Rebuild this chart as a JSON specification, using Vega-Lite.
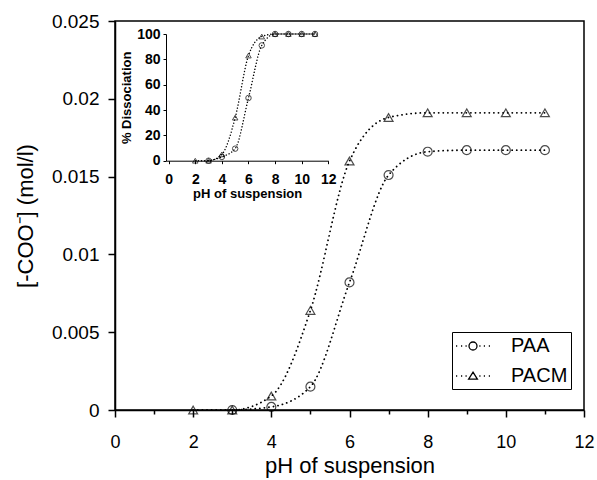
{
  "$schema": "https://vega.github.io/schema/vega-lite/v6.json",
  "width": 469,
  "height": 389,
  "autosize": {"type": "none"},
  "padding": {"left": 115, "top": 21, "right": 13, "bottom": 70},
  "background": "white",
  "config": {
    "font": "Liberation Sans",
    "view": {"stroke": "black", "strokeWidth": 1.5},
    "axis": {"grid": false, "domainColor": "black", "tickColor": "black", "labelColor": "black", "titleColor": "black", "titleFontWeight": "normal", "labelFont": "Liberation Sans", "titleFont": "Liberation Sans"}
  },
  "datasets": {
    "main": [
      {"series": "PACM", "pH": 2, "coo": 0},
      {"series": "PACM", "pH": 3, "coo": 0},
      {"series": "PACM", "pH": 4, "coo": 0.0009},
      {"series": "PACM", "pH": 5, "coo": 0.0064},
      {"series": "PACM", "pH": 6, "coo": 0.016},
      {"series": "PACM", "pH": 7, "coo": 0.0188},
      {"series": "PACM", "pH": 8, "coo": 0.0191},
      {"series": "PACM", "pH": 9, "coo": 0.0191},
      {"series": "PACM", "pH": 10, "coo": 0.0191},
      {"series": "PACM", "pH": 11, "coo": 0.0191},
      {"series": "PAA", "pH": 3, "coo": 0},
      {"series": "PAA", "pH": 4, "coo": 0.0002},
      {"series": "PAA", "pH": 5, "coo": 0.0015},
      {"series": "PAA", "pH": 6, "coo": 0.0082},
      {"series": "PAA", "pH": 7, "coo": 0.0151},
      {"series": "PAA", "pH": 8, "coo": 0.0166},
      {"series": "PAA", "pH": 9, "coo": 0.0167},
      {"series": "PAA", "pH": 10, "coo": 0.0167},
      {"series": "PAA", "pH": 11, "coo": 0.0167}
    ],
    "inset": [
      {"series": "PACM", "pH": 2, "diss": 0},
      {"series": "PACM", "pH": 3, "diss": 0},
      {"series": "PACM", "pH": 4, "diss": 5},
      {"series": "PACM", "pH": 5, "diss": 34},
      {"series": "PACM", "pH": 6, "diss": 83},
      {"series": "PACM", "pH": 7, "diss": 98},
      {"series": "PACM", "pH": 8, "diss": 100},
      {"series": "PACM", "pH": 9, "diss": 100},
      {"series": "PACM", "pH": 10, "diss": 100},
      {"series": "PACM", "pH": 11, "diss": 100},
      {"series": "PAA", "pH": 3, "diss": 0},
      {"series": "PAA", "pH": 4, "diss": 3},
      {"series": "PAA", "pH": 5, "diss": 9.5},
      {"series": "PAA", "pH": 6, "diss": 49.5},
      {"series": "PAA", "pH": 7, "diss": 91},
      {"series": "PAA", "pH": 8, "diss": 100},
      {"series": "PAA", "pH": 9, "diss": 100},
      {"series": "PAA", "pH": 10, "diss": 100},
      {"series": "PAA", "pH": 11, "diss": 100}
    ]
  },
  "layer": [
    {
      "data": {"name": "main"},
      "encoding": {
        "x": {
          "field": "pH", "type": "quantitative",
          "scale": {"domain": [0, 12], "nice": false, "zero": false},
          "axis": {
            "orient": "bottom",
            "title": "pH of suspension",
            "values": [0, 1, 2, 3, 4, 5, 6, 7, 8, 9, 10, 11, 12],
            "labelExpr": "datum.value % 2 === 0 ? datum.label : ''",
            "labelFontSize": 18,
            "titleFontSize": 22,
            "tickSize": {"condition": {"test": "datum.value % 2 === 1", "value": 4}, "value": 7},
            "tickWidth": 1.5,
            "domainWidth": 1.5,
            "labelPadding": 16,
            "titlePadding": 4,
            "labelFlush": false,
            "labelOverlap": false
          }
        },
        "y": {
          "field": "coo", "type": "quantitative",
          "scale": {"domain": [0, 0.025], "nice": false},
          "axis": {
            "orient": "left",
            "title": "[-COO⁻] (mol/l)",
            "values": [0, 0.005, 0.01, 0.015, 0.02, 0.025],
            "format": ".3~f",
            "labelFontSize": 19,
            "titleFontSize": 22,
            "tickSize": 7,
            "tickWidth": 1.5,
            "domainWidth": 1.5,
            "labelPadding": 9,
            "titlePadding": 14,
            "labelFlush": false
          }
        }
      },
      "layer": [
        {
          "mark": {"type": "line", "interpolate": "monotone", "color": "black", "strokeWidth": 1.8, "strokeDash": [0.1, 4.5], "strokeCap": "round"},
          "encoding": {"detail": {"field": "series"}}
        },
        {
          "mark": {"type": "point", "filled": false, "color": "black", "size": 80, "strokeWidth": 1.2},
          "encoding": {
            "shape": {"field": "series", "scale": {"domain": ["PAA", "PACM"], "range": ["circle", "triangle-up"]}, "legend": null}
          }
        },
        {
          "mark": {"type": "point", "filled": false, "color": "black", "opacity": 0},
          "encoding": {
            "shape": {
              "field": "series",
              "scale": {
                "domain": ["PAA", "PACM"],
                "range": [
                  "M-1.7,0L-1.58,0M-1.2,0L-1.08,0M-0.75,0L-0.63,0M0.4,0A0.4,0.4 0 1,1 -0.4,0A0.4,0.4 0 1,1 0.4,0M0.63,0L0.75,0M1.08,0L1.2,0M1.58,0L1.7,0",
                  "M-1.7,0L-1.58,0M-1.2,0L-1.08,0M-0.75,0L-0.63,0M0,-0.38L0.44,0.32L-0.44,0.32ZM0.63,0L0.75,0M1.08,0L1.2,0M1.58,0L1.7,0"
                ]
              },
              "legend": {
                "title": null,
                "orient": "none",
                "legendX": 337,
                "legendY": 311,
                "strokeColor": "black",
                "fillColor": "white",
                "padding": 3,
                "symbolSize": 400,
                "symbolOffset": 7,
                "symbolStrokeColor": "black",
                "symbolFillColor": "transparent",
                "symbolStrokeWidth": 1.3,
                "symbolOpacity": 1,
                "labelOffset": 27,
                "labelFontSize": 20,
                "labelColor": "black",
                "labelFont": "Liberation Sans",
                "labelExpr": "datum.label + '\u00a0\u00a0\u00a0'",
                "rowPadding": 9
              }
            }
          }
        }
      ],
      "resolve": {"scale": {"shape": "independent"}, "legend": {"shape": "independent"}}
    },
    {
      "encoding": {
        "x": {
          "field": "pH", "type": "quantitative",
          "scale": {"domain": [-0.2, 12], "nice": false, "zero": false, "range": [51, 213.3]},
          "axis": {
            "orient": "bottom",
            "offset": -249.3,
            "title": "pH of suspension",
            "values": [0, 2, 4, 6, 8, 10, 12],
            "labelFontSize": 14,
            "labelFontWeight": "bold",
            "titleFontSize": 13,
            "titleFontWeight": "bold",
            "tickSize": 3,
            "domainWidth": 1,
            "labelPadding": 9,
            "titlePadding": 1,
            "labelFlush": false,
            "labelOverlap": false
          }
        },
        "y": {
          "field": "diss", "type": "quantitative",
          "scale": {"domain": [0, 100], "nice": false, "range": [139.7, 13]},
          "axis": {
            "orient": "left",
            "offset": -51,
            "title": "% Dissociation",
            "values": [0, 20, 40, 60, 80, 100],
            "labelFontSize": 14,
            "labelFontWeight": "bold",
            "titleFontSize": 13,
            "titleFontWeight": "bold",
            "tickSize": 3,
            "domainWidth": 1,
            "labelPadding": 3,
            "titlePadding": 3,
            "labelFlush": false
          }
        }
      },
      "layer": [
        {
          "data": {"values": [{"box": "inset"}]},
          "mark": {"type": "rect", "fill": "white", "stroke": "black", "strokeWidth": 1},
          "encoding": {
            "x": {"datum": -0.2, "type": "quantitative"},
            "x2": {"datum": 12},
            "y": {"datum": 0, "type": "quantitative"},
            "y2": {"datum": 100}
          }
        },
        {
          "data": {"name": "inset"},
          "mark": {"type": "line", "interpolate": "monotone", "color": "black", "strokeWidth": 1.4, "strokeDash": [0.1, 3], "strokeCap": "round"},
          "encoding": {"detail": {"field": "series"}}
        },
        {
          "data": {"name": "inset"},
          "mark": {"type": "point", "filled": false, "color": "black", "size": 30, "strokeWidth": 1},
          "encoding": {
            "shape": {"field": "series", "scale": {"domain": ["PAA", "PACM"], "range": ["circle", "triangle-up"]}, "legend": null}
          }
        }
      ]
    }
  ],
  "resolve": {
    "scale": {"x": "independent", "y": "independent", "shape": "independent"},
    "axis": {"x": "independent", "y": "independent"},
    "legend": {"shape": "independent"}
  }
}
